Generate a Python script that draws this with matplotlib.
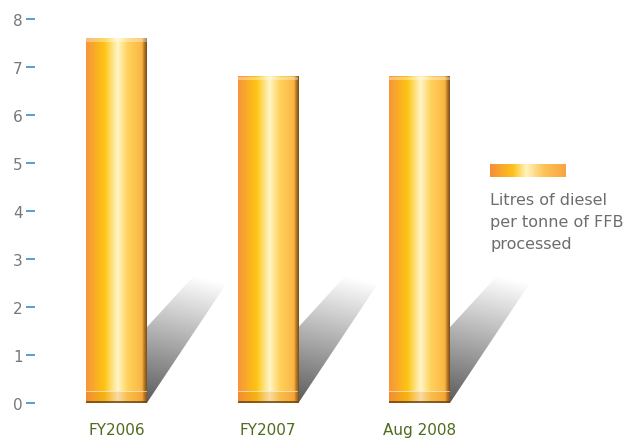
import numpy as np
import matplotlib
matplotlib.use("Agg")
from matplotlib import pyplot as plt
from matplotlib.colors import LinearSegmentedColormap
from matplotlib.patches import Polygon, Rectangle

periods = ["FY2006", "FY2007", "Aug 2008"]
diesel = [7.6, 6.8, 6.8]
yticks = [0, 1, 2, 3, 4, 5, 6, 7, 8]
legend_label = "Litres of diesel\nper tonne of FFB\nprocessed"

# horizontal shading of the cylinders
bar_cmap = LinearSegmentedColormap.from_list("bar", [
    (0.00, "#f7953c"), (0.30, "#fdc412"), (0.52, "#fff6c8"),
    (0.68, "#ffd35e"), (0.92, "#fbb542"), (0.96, "#b57a28"), (1.00, "#7a4e14")])
leg_cmap = LinearSegmentedColormap.from_list("leg", [
    (0.00, "#f68f3a"), (0.30, "#fcc21a"), (0.48, "#fff3c0"),
    (0.70, "#fdc55a"), (1.00, "#f8a43e")])

fig = plt.figure(figsize=(6.4, 4.39), dpi=100)
ax = fig.add_axes([35/640, 35/439, 565/640, 384/439])

pos = np.arange(len(periods))
width = 0.4
grad = bar_cmap(np.linspace(0, 1, 200))[np.newaxis, :, :3]

for x, v in zip(pos, diesel):
    x0, x1 = x - width/2, x + width/2
    # shadow behind the bar
    shadow = Polygon([(x1, 0), (x1, 1.58), (x1 + 0.34, 2.75), (x1 + 0.58, 2.75)],
                     closed=True, transform=ax.transData, facecolor="none", edgecolor="none")
    ax.add_patch(shadow)
    yy = np.linspace(0, 1, 100)[:, None]
    xx = np.linspace(0, 1, 50)[None, :]
    sh = np.clip(0.36 + 0.62*yy + 0.1*xx, 0, 1.0)
    im = ax.imshow(sh, cmap="gray", vmin=0, vmax=1, origin="lower", aspect="auto",
                   extent=[x1, x1 + 0.6, 0, 2.8], zorder=1, interpolation="bilinear")
    im.set_clip_path(shadow)

    ax.imshow(grad, extent=[x0, x1, 0, v], aspect="auto", zorder=3, interpolation="bilinear")
    # top highlight
    ax.add_patch(Rectangle((x0, v - 0.07), width, 0.07, facecolor="white", alpha=0.35,
                           edgecolor="none", zorder=4))
    # base ring
    ax.add_patch(Rectangle((x0, 0), width, 0.24, facecolor="#e07010", alpha=0.2,
                           edgecolor="none", zorder=4))
    ax.add_patch(Rectangle((x0, 0.22), width, 0.035, facecolor="white", alpha=0.55,
                           edgecolor="none", zorder=4))
    ax.add_patch(Rectangle((x0, 0), width, 0.05, facecolor="#6b4510", alpha=0.8,
                           edgecolor="none", zorder=4))

ax.set_xlim(-0.538, 3.19)
ax.set_ylim(0, 8)
for s in ax.spines.values():
    s.set_visible(False)

ax.set_xticks(pos, periods)
ax.tick_params(axis="x", length=0, pad=14, labelcolor="#4e6b1e", labelsize=11)
ax.set_yticks(yticks, [str(t) for t in yticks])
ax.tick_params(axis="y", length=6.5, width=1.4, color="#5b9bd5", pad=2.5,
               labelcolor="#777777", labelsize=11)

# legend
lax = fig.add_axes([490/640, (439-178)/439, 76/640, 13/439])
lax.imshow(leg_cmap(np.linspace(0, 1, 100))[np.newaxis, :, :3], aspect="auto",
           interpolation="bilinear")
lax.axis("off")
fig.text(490/640, 1 - 193/439, legend_label, ha="left", va="top", fontsize=11.5,
         color="#6d6d6d", linespacing=1.6)

fig.savefig("out.png", dpi=100)
